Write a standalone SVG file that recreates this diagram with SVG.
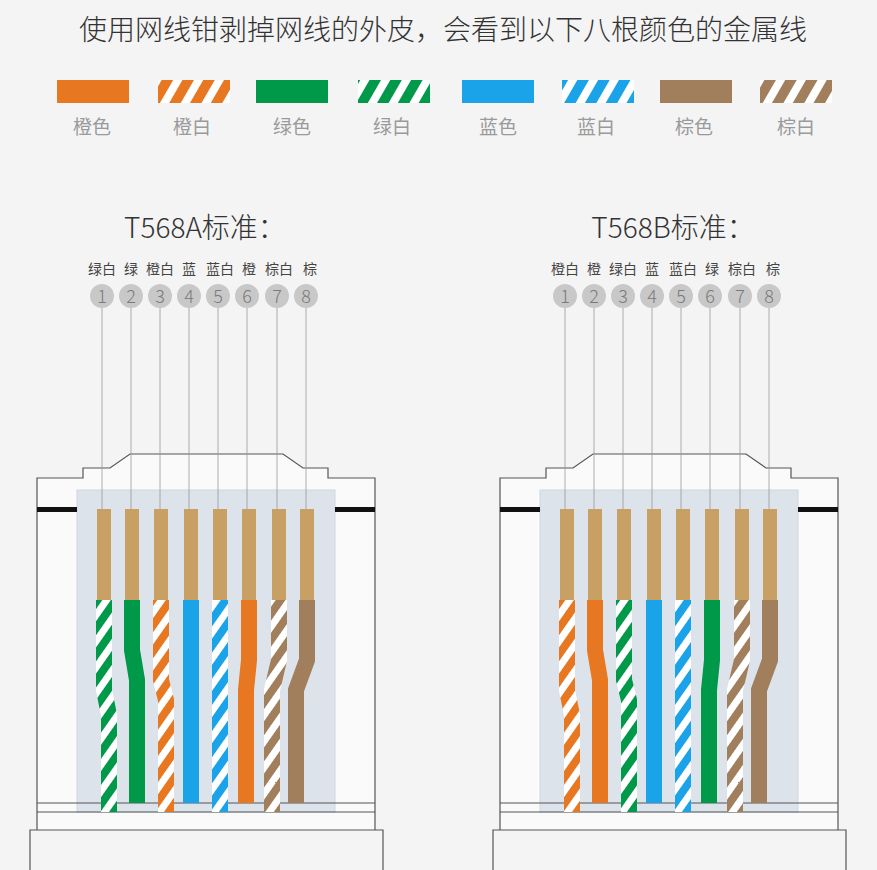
<svg xmlns="http://www.w3.org/2000/svg" width="877" height="870" viewBox="0 0 877 870">
<style>
.t{font-family:"Noto Sans CJK SC","Liberation Sans",sans-serif}
.lg{font-size:19px;fill:#9a9a9a;text-anchor:middle}
.h{font-size:28px;fill:#333;text-anchor:middle;font-weight:300}
.pl{font-size:14px;fill:#444;text-anchor:middle}
.num{font-size:18px;fill:#7a7a7a;text-anchor:middle;font-weight:300}
.body{fill:#fafafa;stroke:#555;stroke-width:1.2}
.ln{stroke:#555;stroke-width:1.2;fill:none}
.pin{fill:#c9a064}
.w{fill:none;stroke-width:16}
.lead{stroke:#999;stroke-width:0.8}
</style>
<defs>
<pattern id="lo" width="18" height="18" patternUnits="userSpaceOnUse" patternTransform="rotate(30)"><rect width="18" height="18" fill="#fff"/><rect width="10" height="18" fill="#e87722"/></pattern>
<pattern id="lgp" width="18" height="18" patternUnits="userSpaceOnUse" patternTransform="rotate(30)"><rect width="18" height="18" fill="#fff"/><rect width="10" height="18" fill="#00994a"/></pattern>
<pattern id="lb" width="18" height="18" patternUnits="userSpaceOnUse" patternTransform="rotate(30)"><rect width="18" height="18" fill="#fff"/><rect width="10" height="18" fill="#1aa3e8"/></pattern>
<pattern id="lr" width="18" height="18" patternUnits="userSpaceOnUse" patternTransform="rotate(30)"><rect width="18" height="18" fill="#fff"/><rect width="10" height="18" fill="#a27f5c"/></pattern>
<pattern id="wo" width="15" height="15" patternUnits="userSpaceOnUse" patternTransform="rotate(-55)"><rect width="15" height="15" fill="#fff"/><rect width="15" height="8" fill="#e87722"/></pattern>
<pattern id="wg" width="15" height="15" patternUnits="userSpaceOnUse" patternTransform="rotate(-55)"><rect width="15" height="15" fill="#fff"/><rect width="15" height="8" fill="#00994a"/></pattern>
<pattern id="wb" width="15" height="15" patternUnits="userSpaceOnUse" patternTransform="rotate(-55)"><rect width="15" height="15" fill="#fff"/><rect width="15" height="8" fill="#1aa3e8"/></pattern>
<pattern id="wr" width="15" height="15" patternUnits="userSpaceOnUse" patternTransform="rotate(-55)"><rect width="15" height="15" fill="#fff"/><rect width="15" height="8" fill="#a27f5c"/></pattern>
</defs>
<rect width="877" height="870" fill="#f4f4f4"/>
<text class="t" x="443" y="40" font-size="28" font-weight="300" fill="#333" text-anchor="middle">使用网线钳剥掉网线的外皮，会看到以下八根颜色的金属线</text>
<g id="legend">
<rect x="57" y="80" width="72" height="23" fill="#e87722"/>
<rect x="158" y="80" width="72" height="23" fill="url(#lo)"/>
<rect x="256" y="80" width="72" height="23" fill="#00994a"/>
<rect x="358" y="80" width="72" height="23" fill="url(#lgp)"/>
<rect x="462" y="80" width="72" height="23" fill="#1aa3e8"/>
<rect x="562" y="80" width="72" height="23" fill="url(#lb)"/>
<rect x="660" y="80" width="72" height="23" fill="#a27f5c"/>
<rect x="760" y="80" width="72" height="23" fill="url(#lr)"/>
<text class="t lg" x="92" y="134">橙色</text>
<text class="t lg" x="192" y="134">橙白</text>
<text class="t lg" x="292" y="134">绿色</text>
<text class="t lg" x="392" y="134">绿白</text>
<text class="t lg" x="498" y="134">蓝色</text>
<text class="t lg" x="596" y="134">蓝白</text>
<text class="t lg" x="694" y="134">棕色</text>
<text class="t lg" x="796" y="134">棕白</text>
</g>
<g id="connA">
<text class="t h" x="205" y="238">T568A标准：</text>
<g class="t pl"><text x="102" y="274">绿白</text><text x="131" y="274">绿</text><text x="160" y="274">橙白</text><text x="189" y="274">蓝</text><text x="220" y="274">蓝白</text><text x="249" y="274">橙</text><text x="279" y="274">棕白</text><text x="310" y="274">棕</text></g>
<g fill="#c8c8c8"><circle cx="102" cy="296" r="12"/><circle cx="131" cy="296" r="12"/><circle cx="160" cy="296" r="12"/><circle cx="189" cy="296" r="12"/><circle cx="218" cy="296" r="12"/><circle cx="247" cy="296" r="12"/><circle cx="277" cy="296" r="12"/><circle cx="306" cy="296" r="12"/></g>
<g class="t num"><text x="102" y="303">1</text><text x="131" y="303">2</text><text x="160" y="303">3</text><text x="189" y="303">4</text><text x="218" y="303">5</text><text x="247" y="303">6</text><text x="277" y="303">7</text><text x="306" y="303">8</text></g>
<path class="body" d="M37 830V478H83V468H110L130 454H283L303 468H328V478H375V830"/>
<path class="ln" d="M30 870V830H383V870"/>
<rect x="77" y="490" width="258" height="322" fill="#dde3ea" stroke="#cfd6de"/>
<rect x="37" y="507" width="40" height="5" fill="#111"/><rect x="335" y="507" width="40" height="5" fill="#111"/>
<path class="ln" d="M37 803H375M37 812H375"/>
<g class="lead"><path d="M102 308V509M131 308V509M160 308V509M189 308V509M218 308V509M247 308V509M277 308V509M306 308V509"/></g>
<g class="pin"><rect x="97" y="509" width="14" height="92"/><rect x="125" y="509" width="14" height="92"/><rect x="154" y="509" width="14" height="92"/><rect x="184" y="509" width="14" height="92"/><rect x="213" y="509" width="14" height="92"/><rect x="242" y="509" width="14" height="92"/><rect x="272" y="509" width="14" height="92"/><rect x="300" y="509" width="14" height="92"/></g>
<g id="wiresA">
<path class="w" stroke="url(#wg)" d="M104 600V690L109 715V812"/>
<path class="w" stroke="#00994a" d="M132 600V650L137 680V803"/>
<path class="w" stroke="url(#wo)" d="M161 600V680L166 700V812"/>
<path class="w" stroke="#1aa3e8" d="M191 600V803"/>
<path class="w" stroke="url(#wb)" d="M220 600V812"/>
<path class="w" stroke="#e87722" d="M249 600V660L246 690V803"/>
<path class="w" stroke="url(#wr)" d="M279 600V660L272 690V812"/>
<path class="w" stroke="#a27f5c" d="M307 600V660L296 690V803"/>
</g>
</g>
<g id="connB" transform="translate(463,0)">
<text class="t h" x="210" y="238">T568B标准：</text>
<g class="t pl"><text x="102" y="274">橙白</text><text x="131" y="274">橙</text><text x="160" y="274">绿白</text><text x="189" y="274">蓝</text><text x="220" y="274">蓝白</text><text x="249" y="274">绿</text><text x="279" y="274">棕白</text><text x="310" y="274">棕</text></g>
<g fill="#c8c8c8"><circle cx="102" cy="296" r="12"/><circle cx="131" cy="296" r="12"/><circle cx="160" cy="296" r="12"/><circle cx="189" cy="296" r="12"/><circle cx="218" cy="296" r="12"/><circle cx="247" cy="296" r="12"/><circle cx="277" cy="296" r="12"/><circle cx="306" cy="296" r="12"/></g>
<g class="t num"><text x="102" y="303">1</text><text x="131" y="303">2</text><text x="160" y="303">3</text><text x="189" y="303">4</text><text x="218" y="303">5</text><text x="247" y="303">6</text><text x="277" y="303">7</text><text x="306" y="303">8</text></g>
<path class="body" d="M37 830V478H83V468H110L130 454H283L303 468H328V478H375V830"/>
<path class="ln" d="M30 870V830H383V870"/>
<rect x="77" y="490" width="258" height="322" fill="#dde3ea" stroke="#cfd6de"/>
<rect x="37" y="507" width="40" height="5" fill="#111"/><rect x="335" y="507" width="40" height="5" fill="#111"/>
<path class="ln" d="M37 803H375M37 812H375"/>
<g class="lead"><path d="M102 308V509M131 308V509M160 308V509M189 308V509M218 308V509M247 308V509M277 308V509M306 308V509"/></g>
<g class="pin"><rect x="97" y="509" width="14" height="92"/><rect x="125" y="509" width="14" height="92"/><rect x="154" y="509" width="14" height="92"/><rect x="184" y="509" width="14" height="92"/><rect x="213" y="509" width="14" height="92"/><rect x="242" y="509" width="14" height="92"/><rect x="272" y="509" width="14" height="92"/><rect x="300" y="509" width="14" height="92"/></g>
<g id="wiresB">
<path class="w" stroke="url(#wo)" d="M104 600V690L109 715V812"/>
<path class="w" stroke="#e87722" d="M132 600V650L137 680V803"/>
<path class="w" stroke="url(#wg)" d="M161 600V680L166 700V812"/>
<path class="w" stroke="#1aa3e8" d="M191 600V803"/>
<path class="w" stroke="url(#wb)" d="M220 600V812"/>
<path class="w" stroke="#00994a" d="M249 600V660L246 690V803"/>
<path class="w" stroke="url(#wr)" d="M279 600V660L272 690V812"/>
<path class="w" stroke="#a27f5c" d="M307 600V660L296 690V803"/>
</g>
</g>
</svg>
